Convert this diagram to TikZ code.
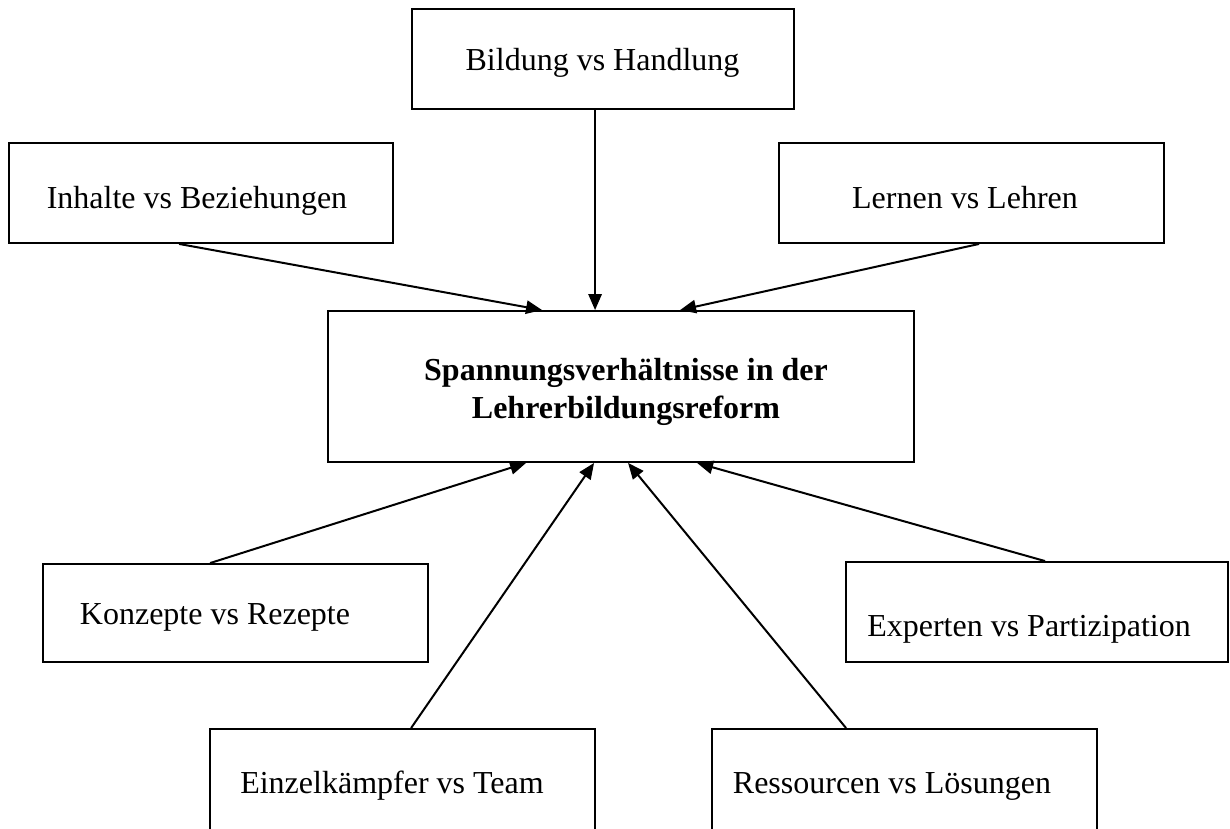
\documentclass[tikz,border=0pt]{standalone}
\usepackage{fontspec}
\setmainfont{Liberation Serif}
\usetikzlibrary{arrows.meta,calc}
\begin{document}
\begin{tikzpicture}[x=0.75pt,y=-0.75pt,
  box/.style={draw=black,line width=1.4pt,rectangle,inner sep=0pt},
  lbl/.style={inner sep=0pt,anchor=base,font=\fontsize{24}{28}\selectfont},
  blbl/.style={lbl,font=\fontsize{24}{28}\selectfont\bfseries},
  conn/.style={line width=1.5pt,-{Triangle[length=12pt,width=10pt]}}]
\useasboundingbox (0,0) rectangle (1230,828);
\clip (0,0) rectangle (1230,828);
% boxes
\node[box,minimum width={382*0.75pt},minimum height={100*0.75pt}] (bild) at (603,59) {};
\node[box,minimum width={384*0.75pt},minimum height={100*0.75pt}] (inh) at (201,193) {};
\node[box,minimum width={385*0.75pt},minimum height={100*0.75pt}] (lern) at (971.5,193) {};
\node[box,minimum width={586*0.75pt},minimum height={151*0.75pt}] (mainb) at (621,386.5) {};
\node[box,minimum width={385*0.75pt},minimum height={98*0.75pt}] (konz) at (235.5,613) {};
\node[box,minimum width={382*0.75pt},minimum height={100*0.75pt}] (expt) at (1037,612) {};
\node[box,minimum width={385*0.75pt},minimum height={141*0.75pt}] (einz) at (402.5,799.5) {};
\node[box,minimum width={385*0.75pt},minimum height={141*0.75pt}] (ress) at (904.5,799.5) {};
% texts
\node[lbl] (bildt) at (602.5,70) {Bildung vs Handlung};
\node[lbl] (inht) at (197,208) {Inhalte vs Beziehungen};
\node[lbl] (lernt) at (965,208) {Lernen vs Lehren};
\node[blbl] (maint1) at (626,380) {Spannungsverhältnisse in der};
\node[blbl] (maint2) at (626,418) {Lehrerbildungsreform};
\node[lbl] (konzt) at (215,624) {Konzepte vs Rezepte};
\node[lbl] (exptt) at (1029,636) {Experten vs Partizipation};
\node[lbl] (einzt) at (392,793) {Einzelkämpfer vs Team};
\node[lbl] (resst) at (892,793) {Ressourcen vs Lösungen};
% connectors
\draw[conn] ($(bild.south west)+(184,0)$) -- ($(mainb.north west)+(268,0)$);
\draw[conn] ($(inh.south west)+(171,0)$) -- ($(mainb.north west)+(215,0)$);
\draw[conn] ($(lern.south west)+(201,0)$) -- ($(mainb.north west)+(353,0)$);
\draw[conn] ($(konz.north west)+(168,0)$) -- ($(mainb.south west)+(199,0)$);
\draw[conn] ($(einz.north west)+(202,0)$) -- ($(mainb.south west)+(267,0)$);
\draw[conn] ($(ress.north west)+(135,0)$) -- ($(mainb.south west)+(301,0)$);
\draw[conn] ($(expt.north west)+(200,0)$) -- ($(mainb.south west)+(370,0)$);
\end{tikzpicture}
\end{document}
